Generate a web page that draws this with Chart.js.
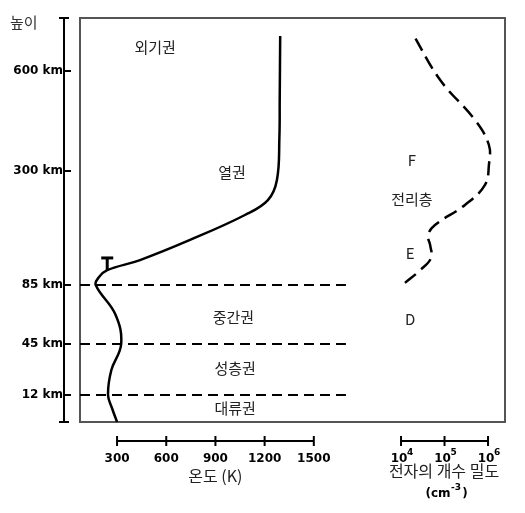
<!DOCTYPE html>
<html><head><meta charset="utf-8">
<script src="https://cdn.jsdelivr.net/npm/chart.js@4"></script>
<style>html,body{margin:0;background:#fff}#c{display:block}</style>
</head><body>
<canvas id="c" width="525" height="513"></canvas>
<script>
// altitude (km) ticks and the non-linear scale the picture uses
const altTicks = [12, 45, 85, 300, 600];
const altBreaksKm = [0, 12, 45, 85, 300, 600, 760];
const altBreaksPos = [0, 27, 78, 137, 251, 351, 404];

const tempTicks = [300, 600, 900, 1200, 1500];
const densTicks = [1e4, 1e5, 1e6];

// temperature profile
const tempKm = [0, 6, 12, 28, 45, 65, 85, 100, 113, 132, 170, 217, 245, 283, 400, 513, 706];
const tempK = [300, 270, 245, 265, 325, 290, 170, 190, 240, 440, 745, 1080, 1220, 1275, 1290, 1292, 1295];

// electron density profile (log10 cm^-3)
const densKm = [89, 113, 136, 160, 179, 198, 236, 274, 318, 378, 453, 573, 717];
const densLog = [4.09, 4.44, 4.69, 4.67, 4.62, 4.78, 5.47, 5.93, 6.02, 6.02, 5.7, 4.9, 4.25];

const boundaryKm = [12, 45, 85];

// small T marker
const markK = 240, markKm = [113, 136];

const layerLabels = [
  { t: "외기권", k: 532, km: 672 },
  { t: "열권", k: 1001, km: 298 },
  { t: "중간권", k: 1010, km: 63 },
  { t: "성층권", k: 1020, km: 29 },
  { t: "대류권", k: 1020, km: 6 }
];
const ionLabels = [
  { t: "F", d: 4.25, km: 333 },
  { t: "전리층", d: 4.25, km: 247 },
  { t: "E", d: 4.21, km: 145 },
  { t: "D", d: 4.21, km: 62 }
];

function pos(km) {
  for (let i = 1; i < altBreaksKm.length; i++) {
    if (km <= altBreaksKm[i]) {
      const a = altBreaksKm[i - 1], b = altBreaksKm[i];
      return altBreaksPos[i - 1] + (km - a) / (b - a) * (altBreaksPos[i] - altBreaksPos[i - 1]);
    }
  }
  return altBreaksPos[altBreaksPos.length - 1];
}

const kor = "'Noto Sans CJK KR', sans-serif";
const bold = "bold 12px 'DejaVu Sans', Verdana, sans-serif";
const sup = "bold 9px 'DejaVu Sans', sans-serif";

const decor = {
  id: "decor",
  beforeDatasetsDraw(chart) {
    const { ctx, chartArea: a } = chart;
    ctx.save();
    ctx.strokeStyle = "#555";
    ctx.lineWidth = 2;
    ctx.strokeRect(a.left, a.top, a.right - a.left, a.bottom - a.top);
    ctx.restore();
  },
  afterDatasetsDraw(chart) {
    const { ctx, chartArea: a, scales } = chart;
    const xT = scales.xT, xD = scales.xD, y = scales.y;
    ctx.save();
    ctx.strokeStyle = "#000";
    ctx.fillStyle = "#000";
    ctx.lineWidth = 2;
    // T marker cap
    const mx = xT.getPixelForValue(markK), my = y.getPixelForValue(pos(markKm[1]));
    ctx.lineWidth = 3;
    ctx.beginPath(); ctx.moveTo(mx - 6, my); ctx.lineTo(mx + 6, my); ctx.stroke();
    ctx.lineWidth = 2;
    // altitude axis
    const ax = 64;
    ctx.beginPath();
    ctx.moveTo(ax, a.top); ctx.lineTo(ax, a.bottom);
    ctx.moveTo(ax - 5, a.top); ctx.lineTo(ax + 5, a.top);
    ctx.moveTo(ax - 5, a.bottom); ctx.lineTo(ax + 5, a.bottom);
    ctx.stroke();
    ctx.font = bold;
    ctx.textAlign = "right";
    ctx.textBaseline = "middle";
    altTicks.forEach(km => {
      const py = y.getPixelForValue(pos(km));
      ctx.beginPath(); ctx.moveTo(ax, py); ctx.lineTo(ax + 7, py); ctx.stroke();
      ctx.fillText(km + " km", ax - 1, py);
    });
    ctx.font = "15px " + kor;
    ctx.fillStyle = "#333";
    ctx.textAlign = "left";
    ctx.fillText("높이", 10, 22);
    // bottom axes
    const by = 441;
    ctx.fillStyle = "#000";
    ctx.beginPath();
    ctx.moveTo(xT.getPixelForValue(tempTicks[0]), by);
    ctx.lineTo(xT.getPixelForValue(tempTicks[tempTicks.length - 1]), by);
    tempTicks.forEach(v => { const px = xT.getPixelForValue(v); ctx.moveTo(px, by - 5); ctx.lineTo(px, by + 5); });
    ctx.moveTo(xD.getPixelForValue(densTicks[0]), by);
    ctx.lineTo(xD.getPixelForValue(densTicks[densTicks.length - 1]), by);
    densTicks.forEach(v => { const px = xD.getPixelForValue(v); ctx.moveTo(px, by - 5); ctx.lineTo(px, by + 5); });
    ctx.stroke();
    ctx.font = bold;
    ctx.textAlign = "center";
    ctx.textBaseline = "alphabetic";
    tempTicks.forEach(v => ctx.fillText(String(v), xT.getPixelForValue(v), 462));
    densTicks.forEach(v => {
      const px = xD.getPixelForValue(v);
      ctx.font = bold; ctx.fillText("10", px - 2, 462);
      ctx.font = sup; ctx.fillText(String(Math.round(Math.log10(v))), px + 9, 455);
    });
    ctx.font = "16px " + kor;
    ctx.fillStyle = "#222";
    ctx.fillText("온도 (K)", xT.getPixelForValue(900), 482);
    ctx.fillText("전자의 개수 밀도", 444, 477);
    ctx.font = bold;
    ctx.fillStyle = "#000";
    ctx.fillText("(cm", 438, 497);
    ctx.font = sup;
    ctx.fillText("-3", 456, 490);
    ctx.font = bold;
    ctx.fillText(")", 465, 497);
    // layer labels
    ctx.font = "15px " + kor;
    ctx.fillStyle = "#222";
    ctx.textBaseline = "middle";
    layerLabels.forEach(l => ctx.fillText(l.t, xT.getPixelForValue(l.k), y.getPixelForValue(pos(l.km))));
    ionLabels.forEach(l => ctx.fillText(l.t, xD.getPixelForValue(Math.pow(10, l.d)), y.getPixelForValue(pos(l.km))));
    ctx.restore();
  }
};

const datasets = [
  {
    data: tempKm.map((km, i) => ({ x: tempK[i], y: pos(km) })),
    xAxisID: "xT", borderColor: "#000", borderWidth: 2.5, pointRadius: 0, tension: 0.4, fill: false
  },
  {
    data: densKm.map((km, i) => ({ x: Math.pow(10, densLog[i]), y: pos(km) })),
    xAxisID: "xD", borderColor: "#000", borderWidth: 2.5, borderDash: [14, 7], pointRadius: 0, tension: 0.4, fill: false
  },
  {
    data: markKm.map(km => ({ x: markK, y: pos(km) })),
    xAxisID: "xT", borderColor: "#000", borderWidth: 3, pointRadius: 0, fill: false
  }
].concat(boundaryKm.map(km => ({
  data: [{ x: 74, y: pos(km) }, { x: 1696, y: pos(km) }],
  xAxisID: "xT", borderColor: "#000", borderWidth: 2, borderDash: [10, 6], pointRadius: 0, fill: false
})));

new Chart(document.getElementById("c"), {
  type: "line",
  data: { datasets },
  options: {
    responsive: false,
    animation: false,
    layout: { padding: { left: 80, right: 20, top: 18, bottom: 91 } },
    scales: {
      xT: { type: "linear", display: false, min: 74, max: 2666 },
      xD: { type: "logarithmic", display: false, min: Math.pow(10, -3.38), max: Math.pow(10, 6.39) },
      y: { type: "linear", display: false, min: 0, max: 404 }
    },
    plugins: { legend: { display: false }, tooltip: { enabled: false } }
  },
  plugins: [decor]
});
</script>
</body></html>
